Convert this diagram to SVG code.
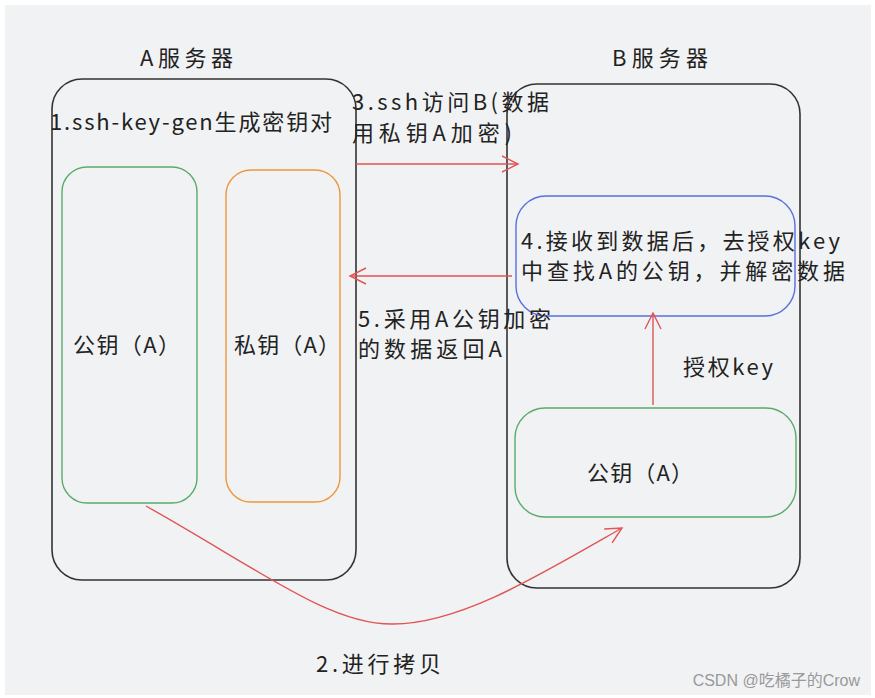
<svg xmlns="http://www.w3.org/2000/svg" width="875" height="698" viewBox="0 0 875 698">
<style>
.t{font-family:"Noto Sans CJK SC","Noto Sans",sans-serif;fill:#222;font-size:22px}
.srv{fill:none;stroke:#333;stroke-width:1.6}
.red{fill:none;stroke:#e05555;stroke-width:1.4}
</style>
<defs>
<marker id="ah" viewBox="0 0 20 20" refX="18" refY="10" markerWidth="20" markerHeight="20" markerUnits="userSpaceOnUse" orient="auto">
<path d="M2,2 L18,10 L2,18" fill="none" stroke="#e05555" stroke-width="1.4"/>
</marker>
</defs>
<rect width="875" height="698" fill="#fff"/>
<rect x="5" y="5" width="866" height="690" fill="#f1f2f4"/>
<g id="serverA">
<rect class="srv" x="52" y="79" width="304" height="501" rx="30"/>
<text class="t" x="140" y="66" textLength="93" lengthAdjust="spacing">A服务器</text>
<text class="t" x="50" y="130" textLength="282" lengthAdjust="spacing">1.ssh-key-gen生成密钥对</text>
</g>
<g id="pubA">
<rect x="62" y="167" width="135" height="336" rx="25" fill="none" stroke="#5aab6a" stroke-width="1.4"/>
<text class="t" x="73" y="353" textLength="107" lengthAdjust="spacing">公钥（A）</text>
</g>
<g id="privA">
<rect x="226" y="170" width="114" height="332" rx="25" fill="none" stroke="#f0963a" stroke-width="1.4"/>
<text class="t" x="234" y="353" textLength="106" lengthAdjust="spacing">私钥（A）</text>
</g>
<g id="serverB">
<rect class="srv" x="507" y="84" width="293" height="504" rx="30"/>
<text class="t" x="612" y="66" textLength="96" lengthAdjust="spacing">B服务器</text>
</g>
<g id="decrypt">
<rect x="516" y="196" width="279" height="120" rx="30" fill="none" stroke="#5a6fdc" stroke-width="1.4"/>
<text class="t" x="521" y="249" textLength="319" lengthAdjust="spacing">4.接收到数据后，去授权key</text>
<text class="t" x="521" y="279" textLength="324" lengthAdjust="spacing">中查找A的公钥，并解密数据</text>
</g>
<g id="pubB">
<rect x="515" y="408" width="281" height="109" rx="30" fill="none" stroke="#5aab6a" stroke-width="1.4"/>
<text class="t" x="587" y="481" textLength="106" lengthAdjust="spacing">公钥（A）</text>
</g>
<g id="connectors">
<line class="red" x1="356" y1="164" x2="518" y2="164" marker-end="url(#ah)"/>
<line class="red" x1="512" y1="276" x2="350" y2="276" marker-end="url(#ah)"/>
<line class="red" x1="653" y1="405" x2="653" y2="313" marker-end="url(#ah)"/>
<path class="red" d="M146,506 C260,570 330,625 393,624 C460,624 540,575 622,528" marker-end="url(#ah)"/>
<text class="t" x="352" y="110" textLength="197" lengthAdjust="spacing">3.ssh访问B(数据</text>
<text class="t" x="352" y="141" textLength="160" lengthAdjust="spacing">用私钥A加密)</text>
<text class="t" x="358" y="327" textLength="193" lengthAdjust="spacing">5.采用A公钥加密</text>
<text class="t" x="358" y="357" textLength="144" lengthAdjust="spacing">的数据返回A</text>
<text class="t" x="683" y="375" textLength="90" lengthAdjust="spacing">授权key</text>
<text class="t" x="316" y="672" textLength="125" lengthAdjust="spacing">2.进行拷贝</text>
</g>
<text x="860" y="686" text-anchor="end" font-family="'Liberation Sans','Noto Sans CJK SC',sans-serif" font-size="16" fill="#999">CSDN @吃橘子的Crow</text>
</svg>
